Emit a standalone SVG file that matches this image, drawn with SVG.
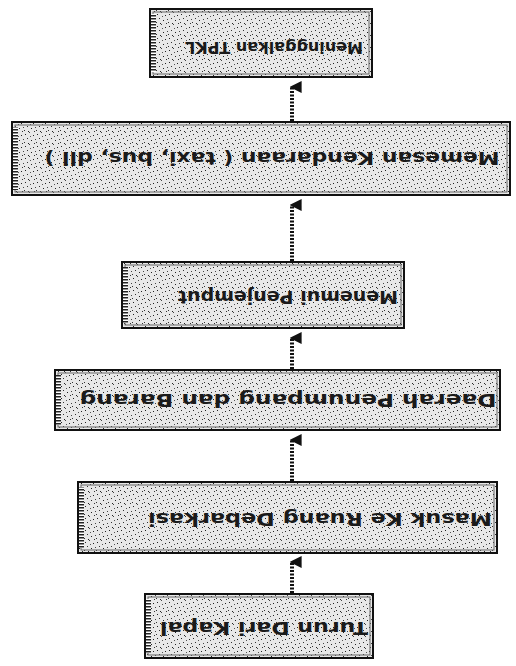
<svg xmlns="http://www.w3.org/2000/svg" width="516" height="666" viewBox="0 0 516 666">
<defs>
<pattern id="grain" width="12" height="12" patternUnits="userSpaceOnUse">
<rect width="12" height="12" fill="#e8e8e8"/>
<rect x="1" y="2" width="1" height="1" fill="#222"/>
<rect x="5" y="0" width="1" height="1" fill="#444"/>
<rect x="9" y="3" width="1" height="1" fill="#222"/>
<rect x="3" y="6" width="1" height="1" fill="#333"/>
<rect x="7" y="8" width="1" height="1" fill="#222"/>
<rect x="11" y="7" width="1" height="1" fill="#444"/>
<rect x="0" y="10" width="1" height="1" fill="#333"/>
<rect x="4" y="11" width="1" height="1" fill="#222"/>
<rect x="10" y="11" width="1" height="1" fill="#333"/>
<rect x="6" y="4" width="1" height="1" fill="#555"/>
</pattern>
<pattern id="hatch" width="4" height="3" patternUnits="userSpaceOnUse">
<rect width="4" height="3" fill="#fff"/>
<rect width="4" height="1.5" fill="#222"/>
</pattern>
<marker id="head" viewBox="0 0 10 10" refX="5" refY="2" markerWidth="3" markerHeight="3" orient="auto-start-reverse" markerUnits="strokeWidth">
<path d="M0,10 L5,0 L10,10 Z" fill="#111"/>
</marker>
<style>
.box{fill:url(#grain);stroke:#111;stroke-width:2}
.inner{fill:none;stroke:#666;stroke-width:1}
.edge{fill:url(#hatch)}
.lbl{font-family:"DejaVu Sans",Verdana,sans-serif;font-size:17px;font-weight:bold;fill:#1a1a1a;text-anchor:middle;dominant-baseline:central}
.arr{stroke:#111;stroke-width:4;stroke-dasharray:2 1.5;fill:none}
</style>
</defs>
<g id="connectors">
<line class="arr" x1="292" y1="593" x2="292" y2="562" marker-end="url(#head)"/>
<line class="arr" x1="292" y1="481" x2="292" y2="440" marker-end="url(#head)"/>
<line class="arr" x1="292" y1="369" x2="292" y2="338" marker-end="url(#head)"/>
<line class="arr" x1="292" y1="261" x2="292" y2="205" marker-end="url(#head)"/>
<line class="arr" x1="292" y1="121" x2="292" y2="87" marker-end="url(#head)"/>
</g>
<g id="n1">
<rect class="box" x="150" y="9" width="222" height="68"/>
<rect class="inner" x="153" y="12" width="216" height="62"/>
<rect class="edge" x="151" y="14" width="5" height="58"/>
<text class="lbl" transform="rotate(180 274 47)" x="274" y="47" style="font-size:16px">Meninggalkan TPKL</text>
</g>
<g id="n2">
<rect class="box" x="12" y="122" width="498" height="73"/>
<rect class="inner" x="15" y="125" width="492" height="67"/>
<rect class="edge" x="13" y="127" width="5" height="63"/>
<text class="lbl" transform="rotate(180 272 158)" x="272" y="158" textLength="455" lengthAdjust="spacingAndGlyphs">Memesan Kendaraan ( taxi, bus, dll )</text>
</g>
<g id="n3">
<rect class="box" x="122" y="262" width="282" height="66"/>
<rect class="inner" x="125" y="265" width="276" height="60"/>
<rect class="edge" x="123" y="267" width="5" height="56"/>
<text class="lbl" transform="rotate(180 288 297)" x="288" y="297" textLength="220" lengthAdjust="spacingAndGlyphs">Menemui Penjemput</text>
</g>
<g id="n4">
<rect class="box" x="55" y="370" width="445" height="60"/>
<rect class="inner" x="58" y="373" width="439" height="54"/>
<rect class="edge" x="56" y="375" width="5" height="50"/>
<text class="lbl" transform="rotate(180 288 400)" x="288" y="400" textLength="417" lengthAdjust="spacingAndGlyphs">Daerah Penumpang dan Barang</text>
</g>
<g id="n5">
<rect class="box" x="78" y="482" width="419" height="71"/>
<rect class="inner" x="81" y="485" width="413" height="65"/>
<rect class="edge" x="79" y="487" width="5" height="61"/>
<text class="lbl" transform="rotate(180 320 519)" x="320" y="519" textLength="344" lengthAdjust="spacingAndGlyphs">Masuk Ke Ruang Debarkasi</text>
</g>
<g id="n6">
<rect class="box" x="145" y="594" width="228" height="64"/>
<rect class="inner" x="148" y="597" width="222" height="58"/>
<rect class="edge" x="146" y="599" width="5" height="54"/>
<text class="lbl" transform="rotate(180 264 628)" x="264" y="628" textLength="208" lengthAdjust="spacingAndGlyphs">Turun Dari Kapal</text>
</g>
</svg>
